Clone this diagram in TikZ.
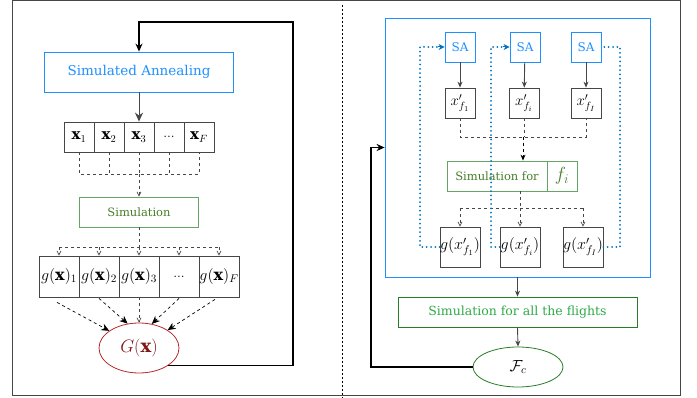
\RequirePackage{fix-cm}
\documentclass[tikz,border=0pt]{standalone}
\usepackage{fontspec}
\setmainfont{DejaVu Serif}
\usetikzlibrary{arrows.meta,shapes.geometric}
\definecolor{saBlue}{RGB}{30,144,255}
\definecolor{simGreen}{RGB}{100,165,100}
\definecolor{simText}{RGB}{70,125,40}
\definecolor{allGreen}{RGB}{40,125,40}
\definecolor{allText}{RGB}{45,170,70}
\definecolor{gRed}{RGB}{185,40,40}
\definecolor{gText}{RGB}{130,20,20}
\definecolor{dotBlue}{RGB}{0,114,189}
\definecolor{lineGray}{RGB}{70,70,70}
\begin{document}
\begin{tikzpicture}[x=1pt,y=-1pt,
  cell/.style={draw=lineGray, line width=0.8pt, inner sep=0pt, minimum width=30pt, minimum height=30pt, font=\fontsize{15}{18}\selectfont},
  gcell/.style={cell, minimum width=40pt, minimum height=41pt, font=\fontsize{16}{19}\selectfont},
  bluebox/.style={draw=saBlue, line width=0.8pt, inner sep=0pt, text=saBlue},
  simbox/.style={draw=simGreen, line width=0.8pt, inner sep=0pt, text=simText},
  arr/.style={draw=lineGray, line width=0.9pt, -{Stealth[length=6pt,width=5pt]}},
  bigarr/.style={draw=lineGray, line width=1pt, -{Stealth[length=9pt,width=8pt]}},
  dsh/.style={draw=lineGray, line width=0.7pt, dashed},
  darr/.style={dsh, -{Straight Barb[length=4pt,width=4pt]}},
  bigdarr/.style={draw=black, line width=0.7pt, dashed, -{Stealth[length=8pt,width=7pt]}},
  fb/.style={draw=black, line width=1.6pt, -{Stealth[length=8pt,width=7pt]}},
  loop/.style={draw=dotBlue, line width=2pt, line cap=round, dash pattern=on 0pt off 4.3pt},
]
\useasboundingbox (0,0) rectangle (697,398);
\draw[lineGray, line width=0.8pt] (12,0.5) rectangle (680,395);
\draw[black, line width=0.6pt, dashed, dash pattern=on 2pt off 2pt] (342,5) -- (342,398);

% ---------- left ----------
\node[bluebox, minimum width=189pt, minimum height=40pt, font=\fontsize{13.5}{16}\selectfont] (SA) at (139,72) {Simulated Annealing};
\node[cell] (x1) at (79,137) {$\mathbf{x}_1$};
\node[cell] (x2) at (109,137) {$\mathbf{x}_2$};
\node[cell] (x3) at (139,137) {$\mathbf{x}_3$};
\node[cell, font=\fontsize{14}{17}\selectfont] (x4) at (169,137) {$...$};
\node[cell] (x5) at (199,137) {$\mathbf{x}_F$};
\node[simbox, minimum width=119pt, minimum height=30pt, font=\fontsize{11.5}{14}\selectfont] (sim) at (139,212) {Simulation};
\node[gcell] (g1) at (59,276.5) {$g(\mathbf{x})_1$};
\node[gcell] (g2) at (99,276.5) {$g(\mathbf{x})_2$};
\node[gcell] (g3) at (139,276.5) {$g(\mathbf{x})_3$};
\node[gcell, font=\fontsize{14}{17}\selectfont] (g4) at (179,276.5) {$...$};
\node[gcell] (g5) at (219,276.5) {$g(\mathbf{x})_F$};
\node[draw=gRed, line width=0.8pt, ellipse, minimum width=80pt, minimum height=50pt, inner sep=0pt, text=gText, font=\fontsize{18}{21}\selectfont] (G) at (139,348) {$G(\mathbf{x})$};

\coordinate (jx) at (139,174);
\coordinate (jg) at (139,247);
\coordinate (top) at (293,22);

\draw[bigarr] (SA) -- (x3);
\draw[dsh] (x1.south) |- (jx) -| (x5.south);
\draw[dsh] (x2.south) -- (x2.south |- jx);
\draw[dsh] (x3.south) -- (jx);
\draw[dsh] (x4.south) -- (x4.south |- jx);
\draw[darr] (jx) -- (sim.north);
\draw[dsh] (sim.south) -- (jg);
\draw[dsh] (g1.north |- jg) -- (g5.north |- jg);
\foreach \n in {g1,g2,g3,g4,g5} \draw[darr] (\n.north |- jg) -- (\n.north);
\draw[bigdarr] ([xshift=-2pt,yshift=-5pt]g1.south) -- (G.150);
\draw[bigdarr] ([yshift=-1pt]g2.south) -- (G.115);
\draw[darr] (g3.south) -- (G.north);
\draw[bigdarr] ([yshift=-1pt]g4.south) -- (G.62);
\draw[bigdarr] ([xshift=-4pt,yshift=-2pt]g5.south) -- (G.32);
\draw[fb] (G.-31) -| (top) -| (SA.north);

% ---------- right ----------
\node[bluebox, minimum width=265pt, minimum height=259pt] (big) at (517.5,147.5) {};
\node[bluebox, cell, draw=saBlue, text=saBlue, font=\fontsize{12}{14}\selectfont] (sa1) at (460,47) {SA};
\node[bluebox, cell, draw=saBlue, text=saBlue, font=\fontsize{12}{14}\selectfont] (sa2) at (525,47) {SA};
\node[bluebox, cell, draw=saBlue, text=saBlue, font=\fontsize{12}{14}\selectfont] (sa3) at (586,47) {SA};
\node[cell] (xp1) at (460,103) {$x'_{f_1}$};
\node[cell] (xp2) at (524,103) {$x'_{f_i}$};
\node[cell] (xp3) at (586,103) {$x'_{f_I}$};
\node[simbox, minimum width=100pt, minimum height=30pt, font=\fontsize{11.5}{14}\selectfont] (sf) at (497,176) {Simulation for};
\node[simbox, minimum width=30pt, minimum height=30pt, font=\fontsize{19}{22}\selectfont] (fi) at (562,176) {$f_i$};
\node[gcell, minimum height=40pt] (gp1) at (460,247) {$g(x'_{f_1})$};
\node[gcell, minimum height=40pt] (gp2) at (520,247) {$g(x'_{f_i})$};
\node[gcell, minimum height=40pt] (gp3) at (583,247) {$g(x'_{f_I})$};
\node[draw=allGreen, line width=0.8pt, minimum width=239pt, minimum height=30pt, inner sep=0pt, text=allText, font=\fontsize{12.5}{15}\selectfont] (all) at (517.5,312) {Simulation for all the flights};
\node[draw=allGreen, line width=0.8pt, ellipse, minimum width=90pt, minimum height=40pt, inner sep=0pt, font=\fontsize{16}{19}\selectfont] (Fc) at (518,367) {$\mathcal{F}_c$};

\coordinate (jr) at (523,137);
\coordinate (jr2) at (520,208);
\coordinate (lp1) at (420,47);
\coordinate (lp2) at (491,47);
\coordinate (lp3) at (620,47);
\coordinate (fbc) at (371,147.5);

\foreach \a/\b in {sa1/xp1,sa2/xp2,sa3/xp3} \draw[arr] (\a) -- (\b);
\draw[dsh] (xp1.south) |- (jr) -| (xp3.south);
\draw[dsh] (xp2.south |- xp1.south) -- (xp2.south |- jr);
\draw[dsh, draw=black, line width=1pt, -{Stealth[length=6pt,width=5pt]}] (jr) -- (sf.north -| jr);
\draw[dsh] (sf.south -| jr2) -- (jr2);
\draw[dsh] (gp1.north |- jr2) -- (gp3.north |- jr2);
\foreach \n in {gp1,gp2,gp3} \draw[darr] (\n.north |- jr2) -- (\n.north);
\draw[loop] (gp1.west) -| (lp1) -- ([xshift=-6pt]sa1.west);
\draw[loop] (gp2.west) -| (lp2) -- ([xshift=-6pt]sa2.west);
\draw[loop] (gp3.east) -| (lp3) -- (sa3.east);
\draw[draw=dotBlue, line width=1pt, -{Stealth[length=6pt,width=6pt]}] ([xshift=-7pt]sa1.west) -- (sa1.west);
\draw[draw=dotBlue, line width=1pt, -{Stealth[length=6pt,width=6pt]}] ([xshift=-7pt]sa2.west) -- (sa2.west);
\draw[arr] (big.south |- 0,277) -- (all.north);
\draw[arr] (all.south) -- (Fc.north);
\draw[fb] (Fc.west) -| (fbc) -- (big.west);
\end{tikzpicture}
\end{document}
